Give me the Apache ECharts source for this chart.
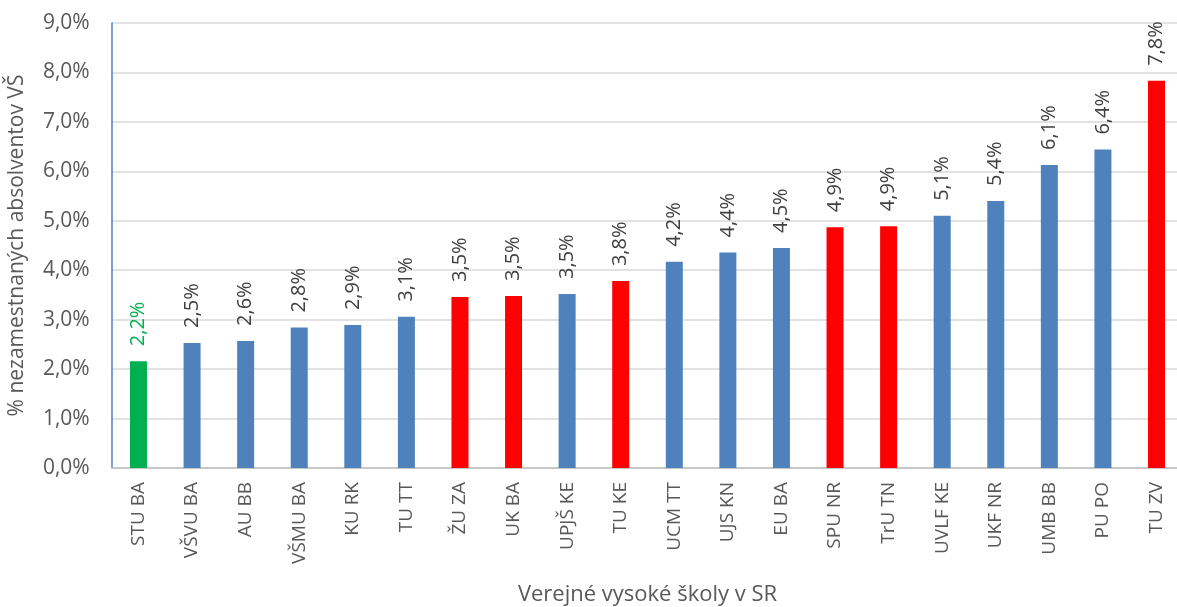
<!DOCTYPE html>
<html><head><meta charset="utf-8">
<script src="https://cdn.jsdelivr.net/npm/echarts@6/dist/echarts.min.js"></script>
<style>html,body{margin:0;padding:0;background:#fff}#c{width:1177px;height:607px}</style>
</head><body><div id="c"></div>
<script>
const categories = ['STU BA','VŠVU BA','AU BB','VŠMU BA','KU RK','TU TT','ŽU ZA','UK BA','UPJŠ KE','TU KE','UCM TT','UJS KN','EU BA','SPU NR','TrU TN','UVLF KE','UKF NR','UMB BB','PU PO','TU ZV'];
const values = [2.16,2.53,2.57,2.84,2.89,3.06,3.46,3.48,3.52,3.78,4.17,4.36,4.45,4.87,4.89,5.10,5.40,6.13,6.44,7.83];
const groups = ['g','b','b','b','b','b','r','r','b','r','b','b','b','r','r','b','b','b','b','r'];
const yTicks = [0,1,2,3,4,5,6,7,8,9];
const colorMap = {g:'#00b050', b:'#4f81bd', r:'#ff0000'};
const fmt = v => v.toFixed(1).replace('.', ',') + '%';
const font = '"Open Sans", sans-serif';
const chart = echarts.init(document.getElementById('c'));
chart.setOption({
  animation:false,
  grid:{left:111.7, right:-6.3, top:23, bottom:139, containLabel:false, outerBoundsMode:'none'},
  xAxis:{type:'category', data:categories,
    axisLine:{lineStyle:{color:'#bfbfbf', width:1.5}}, axisTick:{show:false},
    axisLabel:{rotate:90, color:'#595959', fontSize:19, fontFamily:font, margin:14, interval:0},
    name:'Verejné vysoké školy v SR', nameLocation:'middle', nameGap:116,
    nameTextStyle:{color:'#595959', fontSize:22, fontFamily:font}},
  yAxis:{type:'value', min:yTicks[0], max:yTicks[yTicks.length-1], interval:1,
    axisLine:{show:true, lineStyle:{color:'#4f81bd', width:1.5}}, axisTick:{show:false},
    splitLine:{lineStyle:{color:'#d9d9d9', width:1.5}},
    axisLabel:{color:'#595959', fontSize:21, fontFamily:font, margin:22, formatter:v=>v.toFixed(1).replace('.',',')+'%'},
    name:'% nezamestnaných absolventov VŠ', nameLocation:'middle', nameGap:84,
    nameTextStyle:{color:'#595959', fontSize:21, fontFamily:font}},
  series:[{type:'bar', barWidth:17,
    data: values.map((v,i)=>({value:v, itemStyle:{color:colorMap[groups[i]]},
      label:{color: groups[i]==='g' ? '#00b050' : '#404040'}})),
    label:{show:true, position:'top', rotate:90, align:'left', verticalAlign:'middle', distance:15,
      fontSize:20, fontFamily:font, formatter:p=>fmt(p.value)}
  }]
});
</script></body></html>
